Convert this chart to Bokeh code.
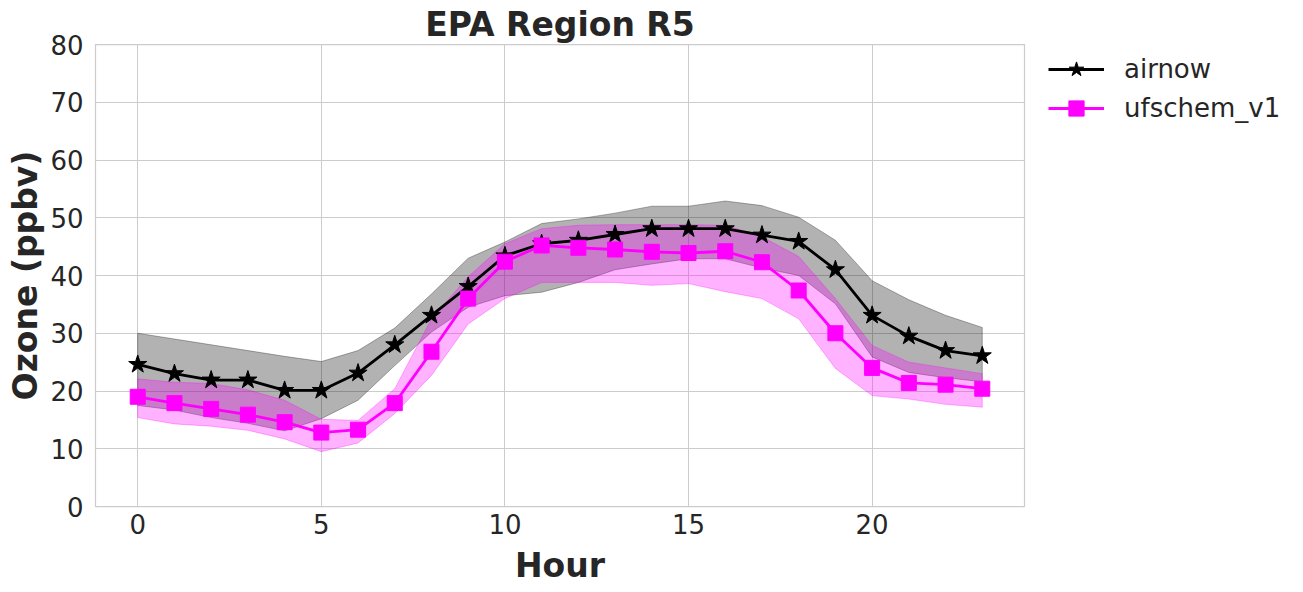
from bokeh.plotting import figure
from bokeh.models import Legend, LegendItem, Range1d, FixedTicker, Title
from bokeh.embed import file_html
from bokeh.resources import INLINE

# Diurnal ozone cycle, EPA Region R5
hours = list(range(24))

airnow_mean = [24.6, 23.0, 21.9, 21.9, 20.1, 20.1, 23.1, 28.0, 33.1, 38.1, 43.4, 45.5,
               46.1, 47.1, 48.1, 48.1, 48.1, 47.0, 45.9, 41.0, 33.1, 29.5, 27.0, 26.1]
airnow_upper = [30.0, 29.0, 28.0, 27.0, 26.0, 25.1, 27.0, 30.9, 36.8, 43.0, 45.8, 49.0,
                49.8, 50.8, 52.0, 52.0, 52.9, 52.1, 50.1, 46.1, 39.1, 35.8, 33.1, 31.0]
airnow_lower = [17.5, 16.7, 15.4, 14.4, 13.1, 15.2, 18.4, 24.4, 30.2, 34.5, 36.5, 37.1,
                38.8, 41.0, 42.0, 42.9, 42.9, 41.3, 40.0, 35.1, 25.9, 23.2, 22.3, 21.6]

ufs_mean = [19.0, 17.9, 16.9, 15.9, 14.6, 12.8, 13.3, 17.9, 26.8, 36.0, 42.4, 45.2,
            44.8, 44.5, 44.1, 43.9, 44.2, 42.3, 37.4, 30.0, 24.0, 21.4, 21.1, 20.4]
ufs_upper = [22.1, 21.5, 21.3, 20.2, 18.4, 15.1, 14.9, 20.4, 32.5, 39.8, 45.5, 48.1,
             48.7, 48.8, 48.8, 48.8, 48.7, 46.7, 43.3, 36.0, 27.9, 25.0, 24.0, 23.0]
ufs_lower = [15.4, 14.3, 13.9, 13.2, 11.7, 9.5, 11.0, 16.1, 22.7, 31.6, 36.0, 38.8,
             38.8, 38.8, 38.3, 38.6, 37.2, 36.0, 32.5, 23.9, 19.2, 18.6, 17.7, 17.2]

x_ticks = [0, 5, 10, 15, 20]
y_ticks = [0, 10, 20, 30, 40, 50, 60, 70, 80]

TEXT = "#262626"
GRID = "#cccccc"
FONT = "DejaVu Sans"

p = figure(frame_width=929, frame_height=462, output_backend="svg",
           toolbar_location=None,
           x_range=Range1d(-1.15, 24.15), y_range=Range1d(0, 80),
           min_border_left=95, min_border_right=279, min_border_top=44,
           min_border_bottom=86, background_fill_color="white",
           border_fill_color="white")

p.title = Title(text="EPA Region R5", align="center", text_font=FONT,
                text_font_size="33px", text_font_style="bold", text_color=TEXT,
                standoff=1)

p.outline_line_color = GRID
p.outline_line_width = 1.25
p.xgrid.grid_line_color = GRID
p.ygrid.grid_line_color = GRID
p.xgrid.grid_line_width = 1
p.ygrid.grid_line_width = 1

p.xaxis.ticker = FixedTicker(ticks=x_ticks)
p.yaxis.ticker = FixedTicker(ticks=y_ticks)
for ax in (p.xaxis, p.yaxis):
    ax.axis_line_color = None
    ax.major_tick_line_color = None
    ax.minor_tick_line_color = None
    ax.major_tick_out = 0
    ax.major_tick_in = 0
    ax.minor_tick_out = 0
    ax.minor_tick_in = 0
    ax.major_label_text_font = FONT
    ax.major_label_text_font_size = "26px"
    ax.major_label_text_color = TEXT
    ax.axis_label_text_font = FONT
    ax.axis_label_text_font_size = "33px"
    ax.axis_label_text_font_style = "bold"
    ax.axis_label_text_color = TEXT
p.xaxis.axis_label = "Hour"
p.yaxis.axis_label = "Ozone (ppbv)"
p.xaxis.major_label_standoff = 7
p.xaxis.axis_label_standoff = 9
p.yaxis.major_label_standoff = 12
p.yaxis.axis_label_standoff = 2

# shaded spread bands
band_x = hours + hours[::-1]
p.patch(band_x, airnow_upper + airnow_lower[::-1], fill_color="black", fill_alpha=0.3,
        line_color="black", line_alpha=0.3, line_width=1)
p.patch(band_x, ufs_upper + ufs_lower[::-1], fill_color="magenta", fill_alpha=0.3,
        line_color="magenta", line_alpha=0.3, line_width=1)

# mean lines with markers
a_line = p.line(hours, airnow_mean, line_color="black", line_width=2.8)
a_mark = p.scatter(hours, airnow_mean, marker="star", size=19, fill_color="black",
                   line_color="black")
u_line = p.line(hours, ufs_mean, line_color="magenta", line_width=2.8)
u_mark = p.scatter(hours, ufs_mean, marker="square", size=15, fill_color="magenta",
                   line_color="magenta")

legend = Legend(items=[LegendItem(label="airnow", renderers=[a_line, a_mark]),
                       LegendItem(label="ufschem_v1", renderers=[u_line, u_mark])],
                location=(24, 379), orientation="vertical",
                label_text_font=FONT, label_text_font_size="26px",
                label_text_color=TEXT, glyph_width=56, glyph_height=38,
                label_height=38, label_standoff=20, spacing=1, padding=0, margin=0,
                border_line_color=None, background_fill_alpha=0)
p.add_layout(legend, "right")

open("out.html", "w").write(file_html(p, INLINE))
